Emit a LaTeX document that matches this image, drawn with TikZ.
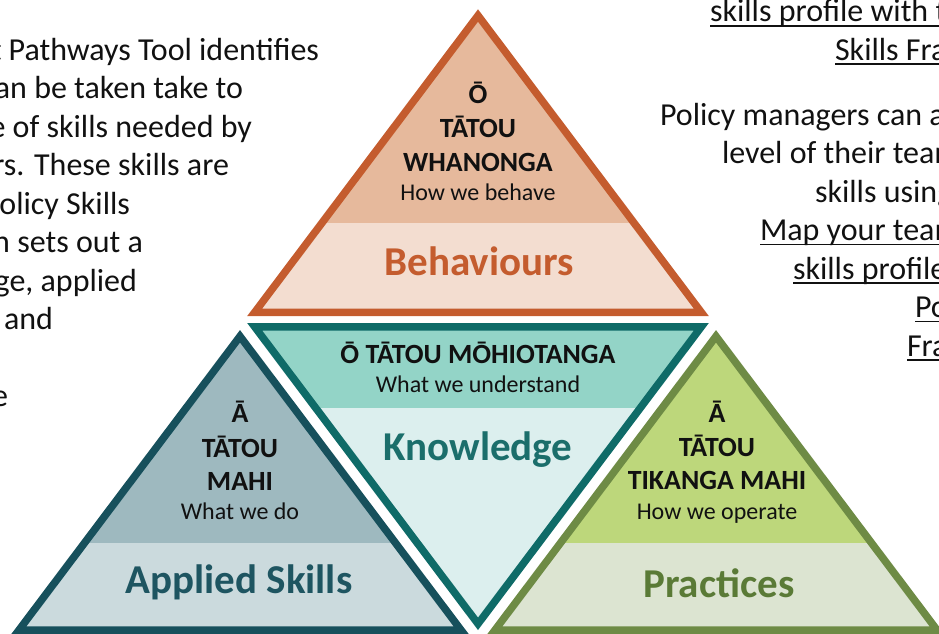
\documentclass[tikz,border=0pt]{standalone}
\usepackage{fontspec}
\setmainfont{Carlito}

\definecolor{ink}{HTML}{111111}
\definecolor{behEdge}{HTML}{C45C2E}
\definecolor{behTop}{HTML}{E6B99C}
\definecolor{behLow}{HTML}{F3DDD0}
\definecolor{knEdge}{HTML}{0F6B68}
\definecolor{knTop}{HTML}{93D4C7}
\definecolor{knLow}{HTML}{DCEFEE}
\definecolor{knText}{HTML}{1B6E6B}
\definecolor{apEdge}{HTML}{17505C}
\definecolor{apTop}{HTML}{9EB9BF}
\definecolor{apLow}{HTML}{CBDADD}
\definecolor{apText}{HTML}{1E5561}
\definecolor{prEdge}{HTML}{6E8B45}
\definecolor{prTop}{HTML}{BDD77B}
\definecolor{prLow}{HTML}{DCE4D1}
\definecolor{prText}{HTML}{5A7A36}

\begin{document}
\begin{tikzpicture}[x=1pt,y=-1pt,
  every node/.style={inner sep=0pt,outer sep=0pt},
  body/.style={font=\fontsize{32}{38.5}\selectfont,text=ink},
  lbody/.style={body,anchor=base east},
  rbody/.style={body,anchor=base west},
  maori/.style={font=\bfseries\fontsize{27.8}{33}\selectfont,text=ink,anchor=base},
  gloss/.style={font=\fontsize{24}{28}\selectfont,text=ink,anchor=base},
  title/.style={font=\bfseries\fontsize{41}{49}\selectfont,anchor=base},
  edge/.style={line width=7.5pt,line join=miter},
  ulrule/.style={line width=1.7pt,draw=ink}
]
\useasboundingbox (0,0) rectangle (939,633);
\begin{scope}
\clip (0,0) rectangle (939,633);

% ---------- triangle corners (stroke centre lines) ----------
\coordinate (bA) at (478,15.5);
\coordinate (bL) at (254.7,312.3);
\coordinate (bR) at (701.3,312.3);

\coordinate (kL) at (254.7,326.8);
\coordinate (kR) at (701.3,326.8);
\coordinate (kB) at (478,623.8);

\coordinate (aA) at (240,336.3);
\coordinate (aL) at (19,630);
\coordinate (aR) at (461,630);

\coordinate (pA) at (716,336.3);
\coordinate (pL) at (495,630);
\coordinate (pR) at (937,630);

% ---------- Behaviours ----------
\begin{scope}
  \clip (bA) -- (bL) -- (bR) -- cycle;
  \fill[behTop] (0,0) rectangle (939,223);
  \fill[behLow] (0,223) rectangle (939,633);
\end{scope}
\draw[edge,behEdge] (bA) -- (bL) -- (bR) -- cycle;

% ---------- Knowledge ----------
\begin{scope}
  \clip (kL) -- (kR) -- (kB) -- cycle;
  \fill[knTop] (0,300) rectangle (939,408);
  \fill[knLow] (0,408) rectangle (939,633);
\end{scope}
\draw[edge,knEdge] (kL) -- (kR) -- (kB) -- cycle;

% ---------- Applied Skills ----------
\begin{scope}
  \clip (aA) -- (aL) -- (aR) -- cycle;
  \fill[apTop] (0,300) rectangle (939,543);
  \fill[apLow] (0,543) rectangle (939,633);
\end{scope}
\draw[edge,apEdge] (aA) -- (aL) -- (aR) -- cycle;

% ---------- Practices ----------
\begin{scope}
  \clip (pA) -- (pL) -- (pR) -- cycle;
  \fill[prTop] (0,300) rectangle (939,543);
  \fill[prLow] (0,543) rectangle (939,633);
\end{scope}
\draw[edge,prEdge] (pA) -- (pL) -- (pR) -- cycle;

% ---------- labels inside the triangles ----------
\node[maori] (b1) at (478,103) {Ō};
\node[maori] (b2) at (478,137) {TĀTOU};
\node[maori] (b3) at (478,171) {WHANONGA};
\node[gloss] (b4) at (478,200) {How we behave};
\node[title,text=behEdge] (b5) at (479,275) {Behaviours};

\node[maori] (k1) at (478,363) {Ō TĀTOU MŌHIOTANGA};
\node[gloss] (k2) at (478,392) {What we understand};
\node[title,text=knText] (k3) at (478,460) {Knowledge};

\node[maori] (a1) at (240,422) {Ā};
\node[maori] (a2) at (240,457) {TĀTOU};
\node[maori] (a3) at (240,490) {MAHI};
\node[gloss] (a4) at (240,519) {What we do};
\node[title,text=apText] (a5) at (239,593) {Applied Skills};

\node[maori] (p1) at (717,422) {Ā};
\node[maori] (p2) at (717,456) {TĀTOU};
\node[maori] (p3) at (717,489) {TIKANGA MAHI};
\node[gloss] (p4) at (717,519) {How we operate};
\node[title,text=prText] (p5) at (719,597) {Practices};

% ---------- left paragraph ----------
\node[lbody] (l1) at (319,60) {t Pathways Tool identifies};
\node[lbody] (l2) at (243,98.5) {an be taken take to};
\node[lbody] (l3) at (252,137) {e of skills needed by};
\node[lbody] (l4) at (229,175.5) {rs. These skills are};
\node[lbody] (l5) at (130,214) {olicy Skills};
\node[lbody] (l6) at (143,252.5) {n sets out a};
\node[lbody] (l7) at (137,291) {ge, applied};
\node[lbody] (l8) at (53,329.5) {and};
\node[lbody] (l9) at (8,406.5) {e};

% ---------- right paragraph ----------
\node[rbody] (r1) at (710,21.7) {skills profile with t};
\node[rbody] (r2) at (835,60) {Skills Fra};
\node[rbody] (r3) at (660,125) {Policy managers can a};
\node[rbody] (r4) at (722,163.5) {level of their team};
\node[rbody] (r5) at (815,202) {skills using};
\node[rbody] (r6) at (760,240.5) {Map your team};
\node[rbody] (r7) at (793,279) {skills profile};
\node[rbody] (r8) at (915,317.5) {Po};
\node[rbody] (r9) at (907,356) {Fra};

\foreach \n in {r1,r2,r6,r7,r8,r9}
  \draw[ulrule] ([yshift=-4pt]\n.base west) -- ([yshift=-4pt]\n.base east);
\end{scope}
\end{tikzpicture}
\end{document}
